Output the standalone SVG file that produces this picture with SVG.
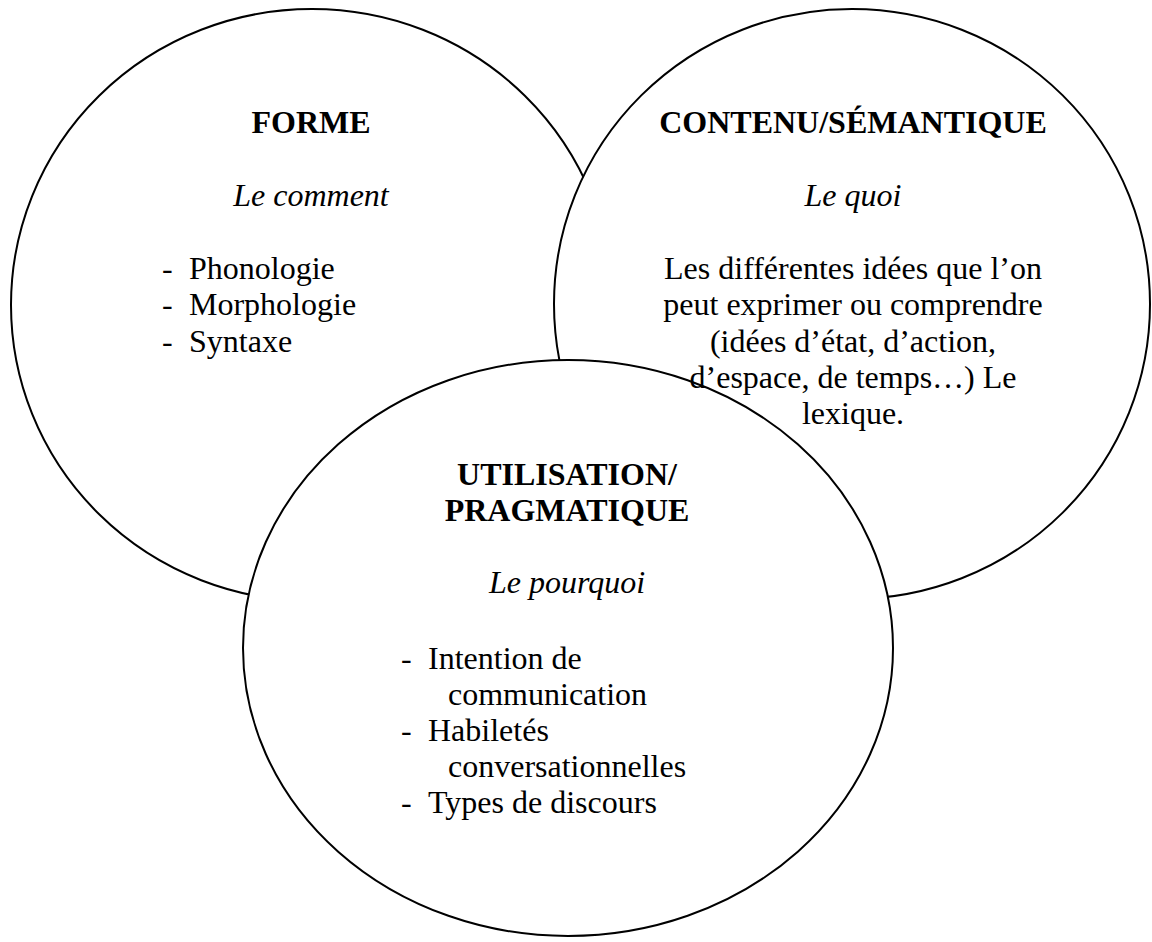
<svg xmlns="http://www.w3.org/2000/svg" width="1152" height="942" viewBox="0 0 1152 942">
<style>
.c{fill:#fff;stroke:#000;stroke-width:2}
text{font-family:"Liberation Serif","Times New Roman",serif;font-size:32px;fill:#000}
.b{font-weight:bold}
.i{font-style:italic}
.m{text-anchor:middle}
</style>
<rect width="1152" height="942" fill="#fff"/>
<g id="connectors"></g>
<g id="shapes">
<ellipse id="circle-forme" class="c" cx="312" cy="305" rx="301" ry="296"/>
<ellipse id="circle-contenu" class="c" cx="852" cy="304" rx="298" ry="295"/>
<ellipse id="circle-utilisation" class="c" cx="568" cy="648" rx="325" ry="288"/>
</g>
<g id="node-forme">
<text class="b m" x="311" y="133">FORME</text>
<text class="i m" x="311" y="206">Le comment</text>
<text x="162" y="279">-</text><text x="189" y="279">Phonologie</text>
<text x="162" y="315">-</text><text x="189" y="315">Morphologie</text>
<text x="162" y="352">-</text><text x="189" y="352">Syntaxe</text>
</g>
<g id="node-contenu">
<text class="b m" x="853" y="133">CONTENU/SÉMANTIQUE</text>
<text class="i m" x="853" y="206">Le quoi</text>
<text class="m" x="853" y="279">Les différentes idées que l’on</text>
<text class="m" x="853" y="315">peut exprimer ou comprendre</text>
<text class="m" x="853" y="352">(idées d’état, d’action,</text>
<text class="m" x="853" y="388">d’espace, de temps…) Le</text>
<text class="m" x="853" y="424">lexique.</text>
</g>
<g id="node-utilisation">
<text class="b m" x="567" y="485">UTILISATION/</text>
<text class="b m" x="567" y="521">PRAGMATIQUE</text>
<text class="i m" x="567" y="593">Le pourquoi</text>
<text x="401" y="669">-</text><text x="428" y="669">Intention de</text>
<text x="448" y="705">communication</text>
<text x="401" y="741">-</text><text x="428" y="741">Habiletés</text>
<text x="448" y="777">conversationnelles</text>
<text x="401" y="813">-</text><text x="428" y="813">Types de discours</text>
</g>
</svg>
